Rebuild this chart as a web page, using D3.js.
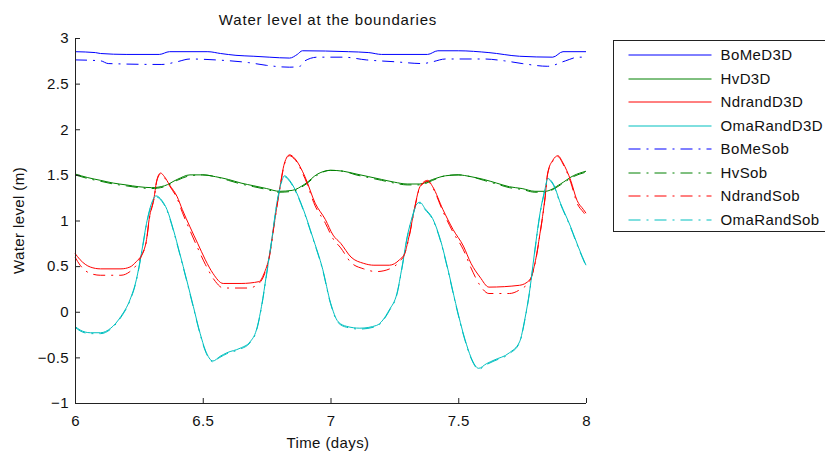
<!DOCTYPE html>
<html>
<head>
<meta charset="utf-8">
<script src="https://cdn.jsdelivr.net/npm/d3@7"></script>
<style>
  body { margin: 0; background: #fff; }
  svg { display: block; }
  text { font-family: "Liberation Sans", Arial, sans-serif; fill: #111; letter-spacing: 0.4px; }
</style>
</head>
<body>
<svg id="chart" width="825" height="452"></svg>
<script>
// ---------- data (day, water level m) ----------
const title = "Water level at the boundaries";
const xLabel = "Time (days)";
const yLabel = "Water level (m)";
const xTicks = [6, 6.5, 7, 7.5, 8];
const yTicks = [-1, -0.5, 0, 0.5, 1, 1.5, 2, 2.5, 3];
const seriesNames = ["BoMeD3D","HvD3D","NdrandD3D","OmaRandD3D","BoMeSob","HvSob","NdrandSob","OmaRandSob"];
const seriesColors = ["#0000ff","#008000","#ff0000","#00bfbf","#0000ff","#008000","#ff0000","#00bfbf"];
const seriesDashed = [false,false,false,false,true,true,true,true];

const boMeD3D = [[6.00,2.85],[6.08,2.84],[6.10,2.83],[6.20,2.82],[6.33,2.82],[6.37,2.85],[6.52,2.85],[6.57,2.83],[6.63,2.81],[6.70,2.80],[6.76,2.79],[6.84,2.78],[6.87,2.82],[6.89,2.86],[7.07,2.85],[7.15,2.84],[7.20,2.82],[7.38,2.82],[7.42,2.86],[7.50,2.86],[7.62,2.84],[7.74,2.80],[7.87,2.79],[7.91,2.85],[8.00,2.85]];
const hvD3D = [[6.00,1.51],[6.05,1.47],[6.10,1.44],[6.15,1.41],[6.20,1.39],[6.25,1.37],[6.30,1.36],[6.35,1.38],[6.40,1.45],[6.45,1.50],[6.50,1.50],[6.55,1.48],[6.60,1.45],[6.65,1.41],[6.70,1.38],[6.75,1.35],[6.80,1.32],[6.85,1.33],[6.90,1.40],[6.95,1.51],[7.00,1.55],[7.05,1.54],[7.10,1.51],[7.15,1.48],[7.20,1.45],[7.25,1.42],[7.30,1.40],[7.35,1.40],[7.40,1.45],[7.45,1.49],[7.50,1.50],[7.55,1.48],[7.60,1.45],[7.65,1.41],[7.70,1.37],[7.75,1.35],[7.80,1.32],[7.84,1.32],[7.90,1.40],[7.95,1.49],[8.00,1.54]];
const ndrandD3D = [[6.00,0.64],[6.02,0.57],[6.06,0.49],[6.10,0.47],[6.18,0.47],[6.215,0.49],[6.24,0.55],[6.26,0.62],[6.28,0.79],[6.29,1.01],[6.31,1.26],[6.32,1.44],[6.335,1.52],[6.35,1.48],[6.37,1.39],[6.40,1.26],[6.42,1.12],[6.45,0.93],[6.48,0.75],[6.51,0.57],[6.54,0.42],[6.58,0.31],[6.65,0.31],[6.72,0.33],[6.74,0.42],[6.76,0.60],[6.78,0.97],[6.80,1.33],[6.82,1.63],[6.84,1.72],[6.86,1.68],[6.90,1.48],[6.94,1.19],[6.98,1.01],[7.01,0.84],[7.04,0.75],[7.08,0.60],[7.13,0.53],[7.17,0.51],[7.23,0.51],[7.27,0.57],[7.29,0.64],[7.31,0.86],[7.33,1.15],[7.35,1.37],[7.38,1.44],[7.40,1.37],[7.44,1.12],[7.48,0.90],[7.52,0.72],[7.55,0.53],[7.585,0.38],[7.62,0.27],[7.74,0.29],[7.78,0.35],[7.80,0.53],[7.82,0.86],[7.84,1.26],[7.85,1.52],[7.87,1.66],[7.89,1.71],[7.91,1.63],[7.94,1.44],[7.965,1.22],[7.99,1.12],[8.00,1.08]];
const omaRandD3D = [[6.00,-0.16],[6.02,-0.20],[6.06,-0.23],[6.10,-0.23],[6.14,-0.18],[6.18,-0.05],[6.215,0.13],[6.24,0.35],[6.26,0.64],[6.28,0.97],[6.30,1.19],[6.317,1.27],[6.34,1.22],[6.36,1.12],[6.385,0.90],[6.41,0.64],[6.437,0.35],[6.463,0.06],[6.49,-0.24],[6.51,-0.42],[6.54,-0.54],[6.567,-0.49],[6.594,-0.45],[6.646,-0.40],[6.685,-0.33],[6.71,-0.20],[6.73,0.06],[6.75,0.42],[6.77,0.79],[6.79,1.19],[6.81,1.44],[6.82,1.49],[6.84,1.44],[6.868,1.30],[6.894,1.12],[6.93,0.82],[6.97,0.46],[7.00,0.10],[7.03,-0.11],[7.063,-0.16],[7.115,-0.18],[7.18,-0.15],[7.23,0.02],[7.26,0.20],[7.28,0.49],[7.30,0.82],[7.32,1.04],[7.335,1.17],[7.35,1.20],[7.37,1.13],[7.40,1.02],[7.43,0.79],[7.46,0.46],[7.49,0.09],[7.526,-0.30],[7.55,-0.50],[7.58,-0.62],[7.61,-0.57],[7.64,-0.53],[7.70,-0.45],[7.74,-0.33],[7.76,-0.09],[7.78,0.24],[7.80,0.68],[7.82,1.08],[7.84,1.35],[7.85,1.46],[7.87,1.41],[7.90,1.19],[7.94,0.93],[7.97,0.71],[8.00,0.51]];
const boMeSob = [[6.00,2.76],[6.10,2.75],[6.13,2.72],[6.34,2.71],[6.40,2.74],[6.45,2.77],[6.55,2.76],[6.68,2.73],[6.75,2.70],[6.84,2.68],[6.88,2.69],[6.90,2.75],[6.95,2.79],[7.05,2.79],[7.14,2.76],[7.25,2.74],[7.36,2.72],[7.40,2.74],[7.45,2.77],[7.60,2.77],[7.68,2.75],[7.75,2.72],[7.85,2.69],[7.92,2.75],[7.97,2.79],[8.00,2.79]];
const hvSob = [[6.00,1.50],[6.05,1.46],[6.10,1.43],[6.15,1.40],[6.20,1.38],[6.25,1.36],[6.30,1.35],[6.35,1.37],[6.40,1.44],[6.45,1.49],[6.50,1.50],[6.55,1.48],[6.60,1.44],[6.65,1.40],[6.70,1.37],[6.75,1.34],[6.80,1.31],[6.85,1.32],[6.90,1.39],[6.95,1.50],[7.00,1.55],[7.05,1.54],[7.10,1.50],[7.15,1.47],[7.20,1.44],[7.25,1.41],[7.30,1.39],[7.35,1.39],[7.40,1.44],[7.45,1.49],[7.50,1.50],[7.55,1.48],[7.60,1.44],[7.65,1.40],[7.70,1.36],[7.75,1.34],[7.80,1.31],[7.84,1.31],[7.90,1.39],[7.95,1.48],[8.00,1.53]];
const ndrandSob = [[6.00,0.60],[6.02,0.51],[6.06,0.42],[6.10,0.40],[6.18,0.40],[6.215,0.44],[6.24,0.51],[6.26,0.61],[6.28,0.78],[6.29,1.00],[6.31,1.25],[6.32,1.43],[6.335,1.51],[6.35,1.47],[6.37,1.38],[6.40,1.24],[6.42,1.09],[6.45,0.89],[6.48,0.70],[6.51,0.52],[6.55,0.33],[6.58,0.26],[6.68,0.26],[6.71,0.29],[6.74,0.40],[6.76,0.59],[6.78,0.96],[6.80,1.32],[6.82,1.62],[6.84,1.71],[6.86,1.67],[6.90,1.46],[6.94,1.16],[6.98,0.97],[7.01,0.80],[7.04,0.70],[7.08,0.54],[7.13,0.47],[7.18,0.44],[7.24,0.48],[7.27,0.55],[7.29,0.63],[7.31,0.85],[7.33,1.14],[7.35,1.36],[7.38,1.43],[7.40,1.36],[7.44,1.10],[7.48,0.87],[7.52,0.68],[7.55,0.48],[7.585,0.29],[7.62,0.20],[7.70,0.20],[7.74,0.24],[7.78,0.34],[7.80,0.52],[7.82,0.85],[7.84,1.25],[7.85,1.51],[7.87,1.65],[7.89,1.70],[7.91,1.62],[7.94,1.42],[7.965,1.19],[7.99,1.09],[8.00,1.05]];
const omaRandSob = [[6.00,-0.17],[6.02,-0.21],[6.06,-0.24],[6.10,-0.24],[6.14,-0.19],[6.18,-0.06],[6.215,0.12],[6.24,0.34],[6.26,0.63],[6.28,0.96],[6.30,1.18],[6.317,1.26],[6.34,1.21],[6.36,1.11],[6.385,0.89],[6.41,0.63],[6.437,0.34],[6.463,0.05],[6.49,-0.25],[6.51,-0.43],[6.54,-0.55],[6.567,-0.50],[6.594,-0.46],[6.646,-0.41],[6.685,-0.34],[6.71,-0.21],[6.73,0.05],[6.75,0.41],[6.77,0.78],[6.79,1.18],[6.81,1.43],[6.82,1.48],[6.84,1.43],[6.868,1.29],[6.894,1.11],[6.93,0.81],[6.97,0.45],[7.00,0.09],[7.03,-0.12],[7.063,-0.17],[7.115,-0.19],[7.18,-0.16],[7.23,0.01],[7.26,0.19],[7.28,0.48],[7.30,0.81],[7.32,1.03],[7.335,1.16],[7.35,1.19],[7.37,1.12],[7.40,1.01],[7.43,0.78],[7.46,0.45],[7.49,0.08],[7.526,-0.31],[7.55,-0.51],[7.58,-0.63],[7.61,-0.58],[7.64,-0.54],[7.70,-0.46],[7.74,-0.34],[7.76,-0.10],[7.78,0.23],[7.80,0.67],[7.82,1.07],[7.84,1.34],[7.85,1.45],[7.87,1.40],[7.90,1.18],[7.94,0.92],[7.97,0.70],[8.00,0.50]];

const seriesData = [boMeD3D, hvD3D, ndrandD3D, omaRandD3D, boMeSob, hvSob, ndrandSob, omaRandSob];

// ---------- layout ----------
const svg = d3.select("#chart");
const plot = { left: 75, right: 586, top: 38, bottom: 403 };
const x = d3.scaleLinear().domain([6, 8]).range([plot.left, plot.right]);
const y = d3.scaleLinear().domain([-1, 3]).range([plot.bottom, plot.top]);
const dashPattern = "12,6,2,6";
const fontSize = 15;

// lines
const line = d3.line().x(d => x(d[0])).y(d => y(d[1])).curve(d3.curveMonotoneX);
const gLines = svg.append("g");
seriesData.forEach((data, i) => {
  gLines.append("path")
    .datum(data)
    .attr("d", line)
    .attr("fill", "none")
    .attr("stroke", seriesColors[i])
    .attr("stroke-width", 1)
    .attr("stroke-dasharray", seriesDashed[i] ? dashPattern : null);
});

// axes
const xAxis = d3.axisBottom(x).tickValues(xTicks).tickFormat(d3.format("")).tickSizeInner(-5).tickSizeOuter(0).tickPadding(12);
const yAxis = d3.axisLeft(y).tickValues(yTicks).tickFormat(d3.format("")).tickSizeInner(-5).tickSizeOuter(0).tickPadding(6);
const gx = svg.append("g").attr("transform", `translate(0,${plot.bottom})`).call(xAxis);
const gy = svg.append("g").attr("transform", `translate(${plot.left},0)`).call(yAxis);
[gx, gy].forEach(g => {
  g.selectAll("path, line").attr("stroke", "#222");
  g.selectAll("text").attr("font-size", fontSize).attr("font-family", "Liberation Sans, Arial, sans-serif").attr("fill", "#111");
});
gx.select(".domain").attr("d", `M${plot.left},0.5H${plot.right}`);
gy.select(".domain").attr("d", `M0.5,${plot.bottom}V${plot.top}`);

// title & labels
svg.append("text").attr("x", 328).attr("y", 25)
  .attr("text-anchor", "middle").attr("font-size", fontSize).style("letter-spacing", "0.82px").text(title);
svg.append("text").attr("x", 328).attr("y", 448)
  .attr("text-anchor", "middle").attr("font-size", fontSize).text(xLabel);
svg.append("text").attr("transform", `translate(24,${(plot.top + plot.bottom) / 2}) rotate(-90)`)
  .attr("text-anchor", "middle").attr("font-size", fontSize).text(yLabel);

// legend
const legend = svg.append("g").attr("transform", "translate(613.5,40.5)");
legend.append("rect").attr("width", 225).attr("height", 191).attr("fill", "#fff").attr("stroke", "#222");
seriesNames.forEach((name, i) => {
  const ry = Math.round(14 + i * 23.5) + 0.5;
  legend.append("line").attr("x1", 15).attr("x2", 98).attr("y1", ry).attr("y2", ry)
    .attr("stroke", seriesColors[i]).attr("stroke-width", 1)
    .attr("stroke-dasharray", seriesDashed[i] ? dashPattern : null);
  legend.append("text").attr("x", 107).attr("y", ry).attr("dy", "0.35em")
    .attr("font-size", fontSize).text(name);
});
</script>
</body>
</html>
